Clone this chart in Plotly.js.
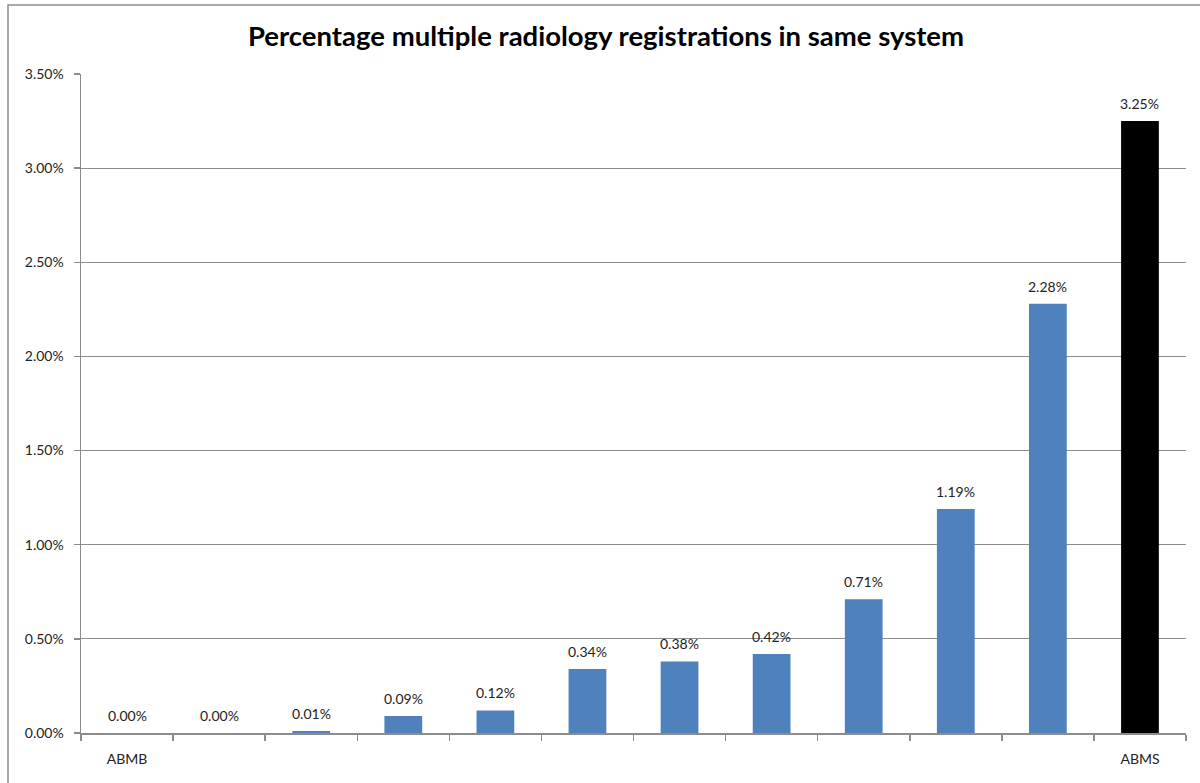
<!DOCTYPE html>
<html>
<head>
<meta charset="utf-8">
<script src="https://cdn.plot.ly/plotly-3.0.1.min.js"></script>
<style>html,body{margin:0;padding:0;background:#fff;}#chart{width:1200px;height:783px;}</style>
</head>
<body>
<div id="chart"></div>
<script>
const labels = ["ABMB", "", "", "", "", "", "", "", "", "", "", "ABMS"];
const values = [0.0000, 0.0000, 0.0001, 0.0009, 0.0012, 0.0034, 0.0038, 0.0042, 0.0071, 0.0119, 0.0228, 0.0325];
const barColors = ["#4F81BD", "#4F81BD", "#4F81BD", "#4F81BD", "#4F81BD", "#4F81BD", "#4F81BD", "#4F81BD", "#4F81BD", "#4F81BD", "#4F81BD", "#000000"];
const yTickVals = [0, 0.005, 0.01, 0.015, 0.02, 0.025, 0.03, 0.035];

const xIdx = labels.map((_, i) => i);
const labelIdx = xIdx.filter(i => labels[i] !== "");

const font = "Lato, 'Open Sans', 'Liberation Sans', sans-serif";

const trace = {
  type: "bar",
  x: xIdx,
  y: values,
  marker: {color: barColors},
  width: 0.41,
  hoverinfo: "skip"
};

const annotations = values.map((v, i) => ({
  x: i, y: v, xref: "x", yref: "y",
  text: (v * 100).toFixed(2) + "%",
  showarrow: false, yanchor: "bottom", xanchor: "center", yshift: 7,
  font: {family: font, size: 14, color: "#222"}
}));

const layout = {
  width: 1200, height: 783,
  margin: {l: 81, r: 14, t: 74, b: 50},
  paper_bgcolor: "#fff", plot_bgcolor: "#fff",
  showlegend: false,
  title: {text: "<b>Percentage multiple radiology registrations in same system</b>",
          font: {family: font, size: 27.5, color: "#000"}, x: 0.505, xanchor: "center", y: 0.953, yanchor: "middle"},
  xaxis: {
    range: [-0.5, labels.length - 0.5],
    tickmode: "array", tickvals: labelIdx, ticktext: labelIdx.map(i => labels[i]),
    ticks: "", showgrid: false, zeroline: false,
    showline: true, linecolor: "#8c8c8c", linewidth: 1.5,
    tickfont: {family: font, size: 14, color: "#222"},
    ticklabelstandoff: 13,
    minor: {tickmode: "linear", tick0: -0.5, dtick: 1, ticks: "outside", ticklen: 6, tickcolor: "#8c8c8c", tickwidth: 1.5, showgrid: false}
  },
  yaxis: {
    range: [0, 0.035],
    tickmode: "array", tickvals: yTickVals, tickformat: ".2%",
    ticks: "outside", ticklen: 6, tickcolor: "#8c8c8c", tickwidth: 1.5,
    ticklabelstandoff: 7,
    showgrid: true, gridcolor: "#8c8c8c", gridwidth: 1.2,
    zeroline: false, showline: true, linecolor: "#8c8c8c", linewidth: 1.5,
    tickfont: {family: font, size: 14, color: "#222"}
  },
  annotations: annotations,
  shapes: [{type: "rect", xref: "paper", yref: "paper",
            x0: (8 - 81) / 1105, x1: 1.1, y0: -0.2, y1: (733 - 5) / 659,
            line: {color: "#8c8c8c", width: 1.5}, fillcolor: "rgba(0,0,0,0)", layer: "below"}]
};

Plotly.newPlot("chart", [trace], layout, {displayModeBar: false, staticPlot: true});
</script>
</body>
</html>
